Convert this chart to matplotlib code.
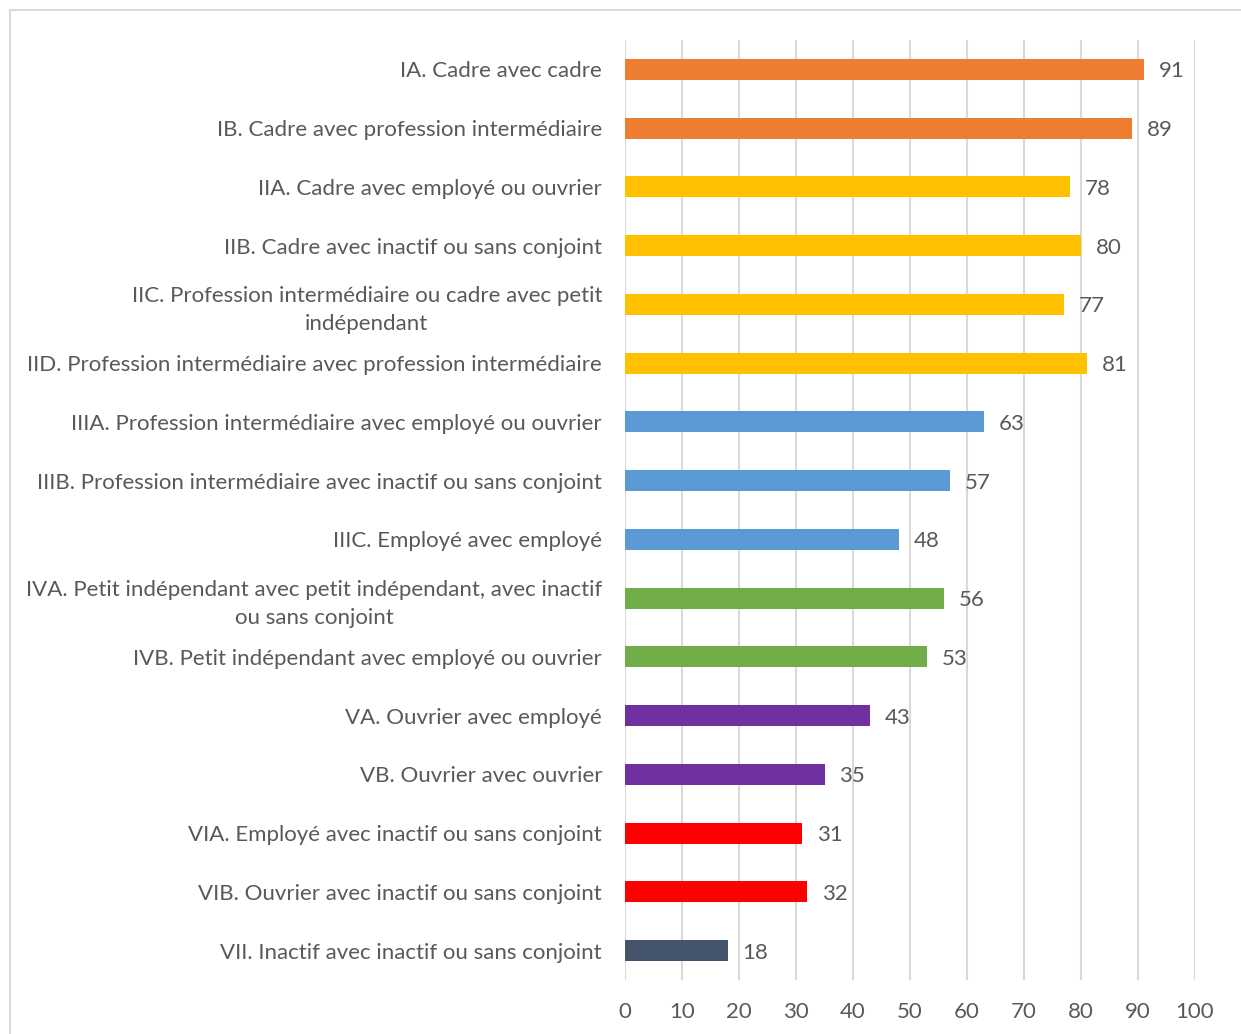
import matplotlib
matplotlib.use("Agg")
import matplotlib.pyplot as plt
from matplotlib.lines import Line2D

# categories (top to bottom) and values
categories = [
    "IA. Cadre avec cadre",
    "IB. Cadre avec profession intermédiaire",
    "IIA. Cadre avec employé ou ouvrier",
    "IIB. Cadre avec inactif ou sans conjoint",
    "IIC. Profession intermédiaire ou cadre avec petit\nindépendant",
    "IID. Profession intermédiaire avec profession intermédiaire",
    "IIIA. Profession intermédiaire avec employé ou ouvrier",
    "IIIB. Profession intermédiaire avec inactif ou sans conjoint",
    "IIIC. Employé avec employé",
    "IVA. Petit indépendant avec petit indépendant, avec inactif\nou sans conjoint",
    "IVB. Petit indépendant avec employé ou ouvrier",
    "VA. Ouvrier avec employé",
    "VB. Ouvrier avec ouvrier",
    "VIA. Employé avec inactif ou sans conjoint",
    "VIB. Ouvrier avec inactif ou sans conjoint",
    "VII. Inactif avec inactif ou sans conjoint",
]
values = [91, 89, 78, 80, 77, 81, 63, 57, 48, 56, 53, 43, 35, 31, 32, 18]
groups = ["I", "I", "II", "II", "II", "II", "III", "III", "III",
          "IV", "IV", "V", "V", "VI", "VI", "VII"]
group_colors = {
    "I": "#ED7D31",
    "II": "#FFC000",
    "III": "#5B9BD5",
    "IV": "#70AD47",
    "V": "#7030A0",
    "VI": "#FF0000",
    "VII": "#44546A",
}
xticks = [0, 10, 20, 30, 40, 50, 60, 70, 80, 90, 100]

plt.rcParams['font.family'] = ['Lato', 'DejaVu Sans']
txt = "#595959"
fs = 16

W, H = 1241, 1034
fig = plt.figure(figsize=(W / 100, H / 100), dpi=100)
ax = fig.add_axes([625 / W, 1 - 980 / H, (1195 - 625) / W, (980 - 40) / H])

# outer chart frame (only left and top edges visible)
fig.add_artist(Line2D([10 / W, 10 / W], [0, 1 - 10 / H], transform=fig.transFigure,
                      color="#d9d9d9", lw=1.5))
fig.add_artist(Line2D([10 / W, 1], [1 - 10 / H, 1 - 10 / H], transform=fig.transFigure,
                      color="#d9d9d9", lw=1.5))

ypos = list(range(len(categories)))
colors = [group_colors[g] for g in groups]
ax.barh(ypos, values, height=0.36, color=colors, zorder=3)

for y, v in zip(ypos, values):
    ax.text(v + 2.6, y, str(v), va="center_baseline", ha="left", fontsize=fs, color=txt)

ax.set_xlim(0, 100)
ax.set_ylim(len(categories) - 0.5, -0.5)
ax.set_xticks(xticks)
ax.set_xticklabels([str(t) for t in xticks], fontsize=fs, color=txt)
ax.set_yticks(ypos)
ax.set_yticklabels(categories, fontsize=fs, color=txt, multialignment="center",
                   linespacing=1.5)
ax.tick_params(axis="both", length=0)
ax.tick_params(axis="y", pad=16.5)
ax.tick_params(axis="x", pad=16)
ax.grid(axis="x", color="#d9d9d9", lw=1.5, zorder=0)
for s in ax.spines.values():
    s.set_visible(False)

fig.savefig("out.png", dpi=100)
